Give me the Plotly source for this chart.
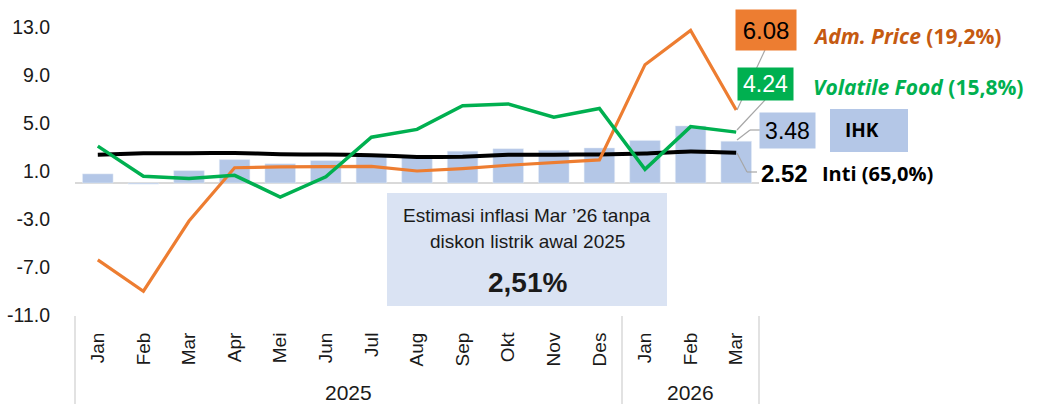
import plotly.graph_objects as go

months = ["Jan", "Feb", "Mar", "Apr", "Mei", "Jun", "Jul", "Aug", "Sep", "Okt", "Nov", "Des",
          "Jan", "Feb", "Mar"]
years = ["2025", "2026"]
year_spans = [(0, 11), (12, 14)]

ihk = [0.76, -0.09, 1.03, 1.95, 1.60, 1.87, 2.37, 2.31, 2.65, 2.86, 2.72, 2.92, 3.55, 4.76, 3.48]
inti = [2.36, 2.48, 2.48, 2.50, 2.40, 2.37, 2.32, 2.17, 2.19, 2.36, 2.36, 2.38, 2.45, 2.63, 2.52]
volatile = [3.07, 0.56, 0.37, 0.64, -1.17, 0.52, 3.82, 4.47, 6.44, 6.59, 5.48, 6.21, 1.14, 4.70, 4.24]
adm = [-6.41, -9.02, -3.17, 1.27, 1.35, 1.40, 1.39, 1.00, 1.20, 1.48, 1.68, 1.93, 9.86, 12.72, 6.08]

y_ticks = [13.0, 9.0, 5.0, 1.0, -3.0, -7.0, -11.0]

C_BAR = "#b4c7e7"
C_BOX = "#dae3f3"
C_ORANGE = "#ed7d31"
C_ORANGE_TXT = "#c55a11"
C_GREEN = "#00b050"
C_GREY = "#a6a6a6"

W, H = 1039, 404
L, R, T, B = 75, 280, 27, 89
PW, PH = W - L - R, H - T - B


def px(xp):
    return (xp - L) / PW


def py(yp):
    return (T + PH - yp) / PH


x = list(range(len(months)))

fig = go.Figure()
fig.add_trace(go.Bar(x=x, y=ihk, marker_color=C_BAR, width=0.67, name="IHK"))
fig.add_trace(go.Scatter(x=x, y=inti, mode="lines", line=dict(color="black", width=4, shape="spline", smoothing=0.4), name="Inti"))
fig.add_trace(go.Scatter(x=x, y=adm, mode="lines", line=dict(color=C_ORANGE, width=3.2), name="Adm"))
fig.add_trace(go.Scatter(x=x, y=volatile, mode="lines", line=dict(color=C_GREEN, width=3.5), name="VF"))

narrow = "Liberation Sans Narrow, Arial Narrow, Liberation Sans, Arial"
sans = "Liberation Sans, Arial"
cal = "Open Sans, Lato, sans-serif"

shapes = []
# year dividers
for xp in [75, 622, 759]:
    shapes.append(dict(type="line", xref="paper", yref="paper", x0=px(xp), x1=px(xp), y0=py(316), y1=py(404),
                       line=dict(color="#d9d9d9", width=1.5)))
# estimasi box
shapes.append(dict(type="rect", xref="paper", yref="paper", x0=px(387), x1=px(667), y0=py(193), y1=py(306),
                   fillcolor=C_BOX, line=dict(width=0), layer="above"))
# IHK box
shapes.append(dict(type="rect", xref="paper", yref="paper", x0=px(830), x1=px(908), y0=py(109), y1=py(152),
                   fillcolor=C_BAR, line=dict(width=0)))
# connectors
def seg(pts):
    for (a, b), (c, d) in zip(pts[:-1], pts[1:]):
        shapes.append(dict(type="line", xref="paper", yref="paper", x0=px(a), y0=py(b), x1=px(c), y1=py(d),
                           line=dict(color=C_GREY, width=1.2)))

seg([(765, 50), (737, 110)])
seg([(765, 100), (737, 130)])
seg([(760, 130), (750, 130), (737, 140)])
seg([(737, 153), (747, 172), (757, 172)])

ann = []
def box(text, cx, cy, w, h, bg, color, size, bold=False):
    t = f"<b>{text}</b>" if bold else text
    ann.append(dict(text=t, xref="paper", yref="paper", x=px(cx), y=py(cy), xanchor="center", yanchor="middle",
                    showarrow=False, width=w, height=h, bgcolor=bg, borderpad=0,
                    font=dict(family=sans, size=size, color=color)))

box("6.08", 766, 30, 60, 40, C_ORANGE, "black", 24)
box("4.24", 765.5, 84, 55, 32, C_GREEN, "white", 23)
box("3.48", 787.5, 130.5, 55, 35, C_BAR, "black", 23)

def txt(text, xp, yp, size, color, family, xanchor="left"):
    ann.append(dict(text=text, xref="paper", yref="paper", x=px(xp), y=py(yp), xanchor=xanchor, yanchor="middle",
                    showarrow=False, font=dict(family=family, size=size, color=color)))

txt("<b><i>Adm. Price</i> (19,2%)</b>", 811, 36, 21, C_ORANGE_TXT, cal)
txt("<b><i>Volatile Food</i> (15,8%)</b>", 811, 87, 21, C_GREEN, cal)
txt("<b>IHK</b>", 862, 130, 19, "black", cal, "center")
txt("<b>2.52</b>", 784.5, 173, 24, "black", sans, "center")
txt("<b>Inti (65,0%)</b>", 820, 173, 20, "black", cal)

txt("Estimasi inflasi Mar ’26 tanpa", 527, 215, 19, "#1a1a1a", narrow, "center")
txt("diskon listrik awal 2025", 527, 241, 19, "#1a1a1a", narrow, "center")
txt("<b>2,51%</b>", 527, 282, 28, "#1a1a1a", narrow, "center")

for yr, (a, b) in zip(years, year_spans):
    ann.append(dict(text=yr, xref="x", yref="paper", x=(a + b) / 2, y=py(392), xanchor="center", yanchor="middle",
                    showarrow=False, font=dict(family=narrow, size=21, color="#1a1a1a")))

fig.update_layout(
    width=W, height=H, margin=dict(l=L, r=R, t=T, b=B, autoexpand=False),
    paper_bgcolor="white", plot_bgcolor="white", showlegend=False, bargap=0.3,
    shapes=shapes, annotations=ann,
    xaxis=dict(range=[-0.5, len(months) - 0.5], tickmode="array", tickvals=x, ticktext=months, tickangle=-90,
               showgrid=False, zeroline=False, showline=False, ticks="outside", ticklen=9,
               tickcolor="rgba(0,0,0,0)", tickfont=dict(family=narrow, size=19, color="#1a1a1a"), fixedrange=True),
    yaxis=dict(range=[-11, 13], tickmode="array", tickvals=y_ticks, ticktext=[f"{v:.1f}" for v in y_ticks],
               showgrid=False, zeroline=True, zerolinecolor="#d9d9d9", zerolinewidth=1.5, showline=False,
               ticks="outside", ticklen=20, tickcolor="rgba(0,0,0,0)",
               tickfont=dict(family=sans, size=19.5, color="#1a1a1a"), fixedrange=True),
)

fig.write_html("out.html")
